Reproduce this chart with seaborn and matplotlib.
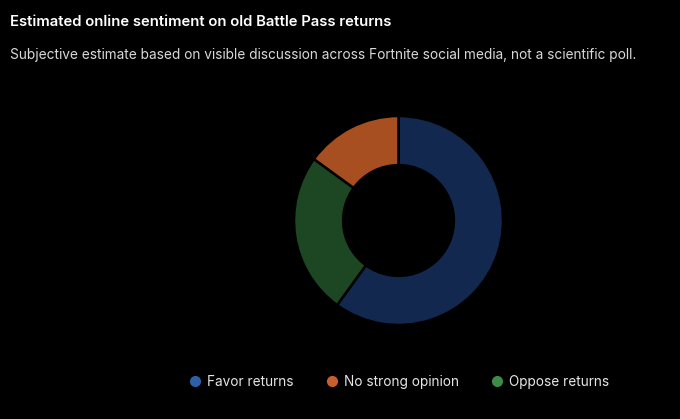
import matplotlib
matplotlib.use("Agg")
import matplotlib.pyplot as plt
from matplotlib.lines import Line2D
import seaborn as sns

# data
labels = ["Favor returns", "No strong opinion", "Oppose returns"]
shares = [60, 15, 25]
slice_colors = ["#13284f", "#a84f22", "#1d4622"]
dot_colors = ["#2f5fa8", "#c8602e", "#3f8b47"]

sns.set_theme(style="dark", rc={"figure.facecolor": "black", "axes.facecolor": "black",
                                "savefig.facecolor": "black"})
plt.rcParams["font.family"] = ["Inter", "DejaVu Sans"]

fig = plt.figure(figsize=(6.8, 4.19), dpi=100)

# donut: center ~ (398, 221) px, radius ~105 px
ax = fig.add_axes([294 / 680, 94 / 419, 209 / 680, 209 / 419])
# clockwise from 12 o'clock: favor, oppose, no opinion
order = [0, 2, 1]
ax.pie([shares[i] for i in order], colors=[slice_colors[i] for i in order],
       startangle=90, counterclock=False,
       wedgeprops=dict(width=0.47, edgecolor="black", linewidth=1.8))
ax.set_xlim(-1, 1)
ax.set_ylim(-1, 1)
ax.set_aspect("equal")
ax.axis("off")

fig.text(10 / 680, 1 - 22 / 419, "Estimated online sentiment on old Battle Pass returns",
         color="white", fontsize=10.7, fontweight="semibold", va="center", ha="left")
fig.text(10 / 680, 1 - 55 / 419,
         "Subjective estimate based on visible discussion across Fortnite social media, not a scientific poll.",
         color="#d8d8d8", fontsize=9.85, va="center", ha="left")

handles = [Line2D([0], [0], marker="o", linestyle="", markersize=7,
                  markerfacecolor=c, markeredgecolor=c) for c in dot_colors]
leg = fig.legend(handles, labels, loc="center", bbox_to_anchor=(398 / 680, 1 - 382 / 419),
                 ncol=3, frameon=False, fontsize=9.8, handletextpad=0.3,
                 columnspacing=2.2, handlelength=1.2)
for t in leg.get_texts():
    t.set_color("#e6e6e6")

fig.savefig("out.png", dpi=100, facecolor="black")
